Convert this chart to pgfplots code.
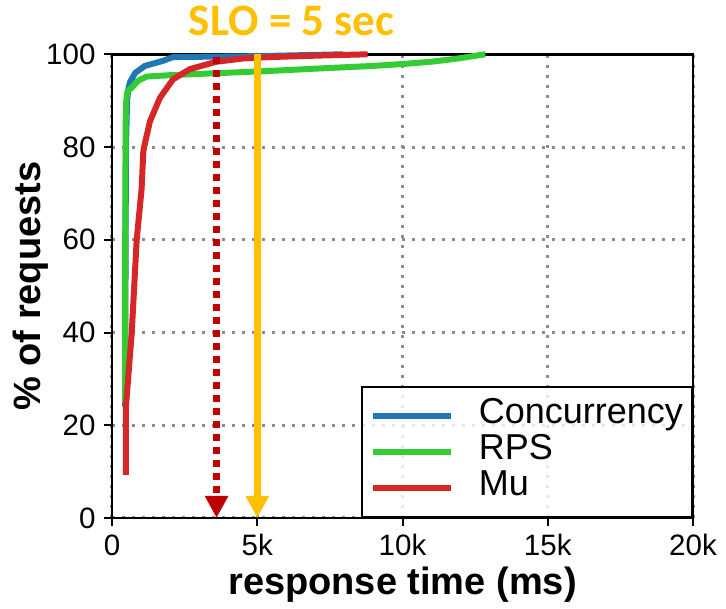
\documentclass[border=0pt]{standalone}
\usepackage{fontspec}
\setmainfont{Liberation Sans}
\newfontfamily\titlefont{Carlito}
\usepackage{pgfplots}
\pgfplotsset{compat=1.18}
\usetikzlibrary{arrows.meta}
\definecolor{cblue}{HTML}{1F77B4}
\definecolor{cgreen}{HTML}{33CC33}
\definecolor{cred}{HTML}{D62728}
\definecolor{arrred}{HTML}{C00000}
\definecolor{arryel}{HTML}{FFC000}
\definecolor{gridgray}{HTML}{8C8C8C}
\begin{document}
\begin{tikzpicture}
\begin{axis}[
  scale only axis,
  width=581pt, height=463.7pt,
  xmin=0, xmax=20000, ymin=0, ymax=100,
  clip=false,
  xtick={0,5000,10000,15000,20000},
  xticklabels={0,5k,10k,15k,20k},
  ytick={0,20,40,60,80,100},
  yticklabels={0,20,40,60,80,100},
  scaled x ticks=false,
  tick pos=left,
  tick align=outside,
  major tick length=8pt,
  every tick/.style={black, line width=2pt},
  axis line style={line width=2.5pt},
  ticklabel style={font=\fontsize{29.5}{31}\selectfont},
  xticklabel style={yshift=-5pt},
  yticklabel style={xshift=-5pt},
  grid=major,
  major grid style={gridgray, line width=3pt, dash pattern=on 3pt off 7pt},
  xlabel={\bfseries response time (ms)},
  ylabel={\bfseries \% of requests},
  label style={font=\fontsize{38}{40}\selectfont},
  xlabel style={yshift=-4pt},
  ylabel style={yshift=-9pt},
  legend cell align=left,
  legend style={at={(1,0)}, anchor=south east, draw=black, line width=2pt,
    fill=white, fill opacity=0.8, draw opacity=1, text opacity=1,
    font=\fontsize{36}{37}\selectfont,
    inner xsep=8pt, inner ysep=11pt,
    nodes={inner sep=1pt, text height=25pt, text depth=9pt},
    /tikz/column 1/.style={column sep=24pt}},
  legend image code/.code={\draw[#1] (0pt,0pt) -- (78pt,0pt);},
]
\addplot[cblue, line width=6pt, line join=round] coordinates {
 (450,24) (480,80) (520,90) (560,92.5) (620,94) (800,96) (1136,97.5)
 (1760,98.6) (2100,99.4) (5000,99.6) (7950,100)};
\addlegendentry{Concurrency}
\addplot[cgreen, line width=6pt, line join=round] coordinates {
 (450,24.8) (455,60) (470,85) (490,90) (530,92) (680,92.8) (900,94.3)
 (1190,95.2) (2000,95.5) (3500,95.9) (5400,96.4) (7000,96.9) (9000,97.5)
 (10000,97.9) (11000,98.4) (11800,99.0) (12850,100)};
\addlegendentry{RPS}
\addplot[cred, line width=6pt, line join=round] coordinates {
 (480,9.3) (480,24) (580,32) (680,40) (850,60) (1020,71) (1077,79)
 (1140,81) (1310,85.6) (1650,90.6) (2100,94.6) (2680,96.8) (3600,98.4)
 (4520,99.1) (5440,99.4) (7000,99.7) (8800,100)};
\addlegendentry{Mu}
\addplot[forget plot, arrred, line width=7pt, dash pattern=on 7pt off 6pt,
  -{Triangle[width=22pt,length=22pt]}] coordinates {(3600,99.4) (3600,0)};
\addplot[forget plot, arryel, line width=7pt,
  -{Triangle[width=22pt,length=22pt]}] coordinates {(5000,100) (5000,0)};
\node[arryel, font=\titlefont\bfseries\fontsize{45}{47}\selectfont, anchor=center]
  at (rel axis cs:0.309,1.071) {SLO = 5 sec};
\coordinate (bl) at (rel axis cs:0,0);
\end{axis}
\pgfresetboundingbox
\path[use as bounding box] ([xshift=-112pt,yshift=-91pt]bl) rectangle ([xshift=614pt,yshift=518pt]bl);
\end{tikzpicture}
\end{document}
